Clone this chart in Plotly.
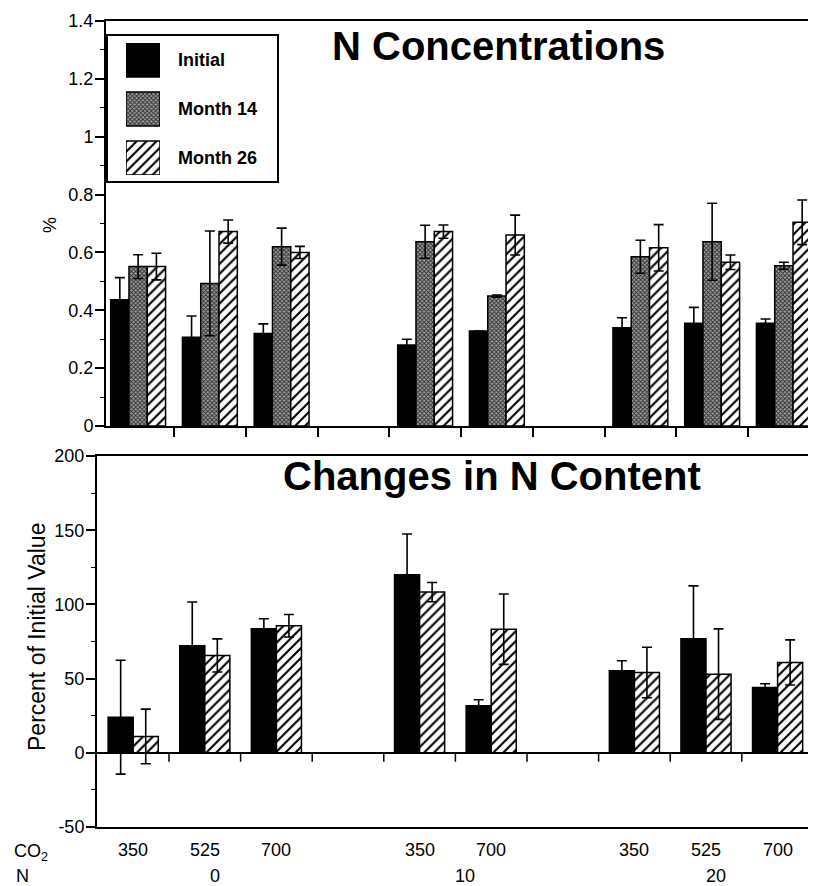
import plotly.graph_objects as go

# The page body has an 8 px default margin, so the figure is drawn 8 px in
# from the top-left corner; size it so that it fills the 816x886 window.
PAGE_W, PAGE_H = 816, 886
OFF = 8
W, H = PAGE_W - OFF, PAGE_H - OFF
FONT = "Liberation Sans, Arial, Helvetica, sans-serif"

# ---------------- data ----------------
n_groups = ["0", "10", "20"]
co2_by_group = [["350", "525", "700"], ["350", "700"], ["350", "525", "700"]]

# N concentrations (%)
init_conc = [0.436, 0.307, 0.320, 0.280, 0.328, 0.340, 0.355, 0.355]
init_conc_err = [0.077, 0.073, 0.033, 0.020, 0.0, 0.034, 0.055, 0.015]
m14_conc = [0.551, 0.493, 0.620, 0.637, 0.449, 0.585, 0.637, 0.554]
m14_conc_err = [0.041, 0.181, 0.064, 0.057, 0.004, 0.057, 0.133, 0.012]
m26_conc = [0.551, 0.672, 0.600, 0.672, 0.660, 0.616, 0.566, 0.704]
m26_conc_err = [0.046, 0.040, 0.021, 0.023, 0.069, 0.080, 0.025, 0.077]

# Changes in N content (percent of initial value)
init_change = [24.0, 72.1, 83.6, 120.0, 31.7, 55.3, 76.8, 44.0]
init_change_err = [38.4, 29.5, 6.7, 27.4, 4.0, 6.7, 35.7, 2.5]
m26_change = [11.0, 65.6, 85.6, 108.3, 83.3, 54.1, 53.0, 60.9]
m26_change_err = [18.4, 11.2, 7.6, 6.5, 23.7, 17.0, 30.5, 15.2]

series_names = ["Initial", "Month 14", "Month 26"]

# ---------------- category positions ----------------
pos, co2_labels, group_centers = [], [], []
k = 0
for grp in co2_by_group:
    start = k
    for c in grp:
        pos.append(k)
        co2_labels.append(c)
        k += 1
    group_centers.append((start + k - 1) / 2)
    k += 1
n_slots = k - 1
boundaries = [i + 0.5 for i in range(n_slots - 1)]


def fx(px):
    return min(1.0, max(0.0, (px - OFF) / W))


def fy(py):
    return min(1.0, max(0.0, 1 - (py - OFF) / H))


# styles
STYLE = {
    "Initial": dict(color="black", pattern=dict(shape="")),
    "Month 14": dict(color="#8a8a8a",
                     pattern=dict(shape="x", size=3, solidity=0.5,
                                  fgcolor="#2a2a2a", bgcolor="#a0a0a0", fillmode="replace")),
    "Month 26": dict(color="white",
                     pattern=dict(shape="/", size=7, solidity=0.3,
                                  fgcolor="black", bgcolor="white", fillmode="replace")),
}

fig = go.Figure()

# ---------------- top panel ----------------
top_w = 0.255
top_offsets = [-1.5 * top_w, -0.5 * top_w, 0.5 * top_w]
for name, vals, errs, off in zip(series_names,
                                 [init_conc, m14_conc, m26_conc],
                                 [init_conc_err, m14_conc_err, m26_conc_err],
                                 top_offsets):
    st = STYLE[name]
    fig.add_trace(go.Bar(
        x=pos, y=vals, width=top_w, offset=off, name=name, showlegend=False,
        marker=dict(color=st["color"], pattern=st["pattern"],
                    line=dict(color="black", width=1.5)),
        error_y=dict(type="data", array=errs, symmetric=True, color="black",
                     thickness=1.6, width=5),
        xaxis="x", yaxis="y"))

# ---------------- bottom panel ----------------
bot_w = 0.35
bot_offsets = [-bot_w, 0]
for name, vals, errs, off in zip(["Initial", "Month 26"],
                                 [init_change, m26_change],
                                 [init_change_err, m26_change_err],
                                 bot_offsets):
    st = STYLE[name]
    fig.add_trace(go.Bar(
        x=pos, y=vals, width=bot_w, offset=off, name=name, showlegend=False,
        marker=dict(color=st["color"], pattern=st["pattern"],
                    line=dict(color="black", width=1.5)),
        error_y=dict(type="data", array=errs, symmetric=True, color="black",
                     thickness=1.6, width=5),
        xaxis="x2", yaxis="y2"))

# ---------------- custom legend swatches (one bar per series) ----------------
sw_h = 34
sw_gap = 49
for i, name in enumerate(series_names):
    st = STYLE[name]
    fig.add_trace(go.Bar(
        x=[0], y=[sw_h], base=[i * sw_gap], width=1, showlegend=False, hoverinfo="skip",
        marker=dict(color=st["color"], pattern=st["pattern"],
                    line=dict(color="black", width=1.5)),
        xaxis="x3", yaxis="y3"))

# ---------------- axes ----------------
slot_w_top = 71.75
slot0_top = 102.25
slot_w_bot = 71.6
slot0_bot = 97.4


def xval(px, s0, sw):
    return (px - s0) / sw - 0.5


line_common = dict(showline=True, linecolor="black", linewidth=2,
                   showgrid=False, zeroline=False, automargin=False)
tickfont = dict(family=FONT, size=18, color="black")

fig.update_layout(
    template="none",
    width=W, height=H, margin=dict(l=0, r=0, t=0, b=0, pad=0, autoexpand=False),
    paper_bgcolor="white", plot_bgcolor="white",
    barmode="overlay", showlegend=False,
    font=dict(family=FONT, color="black"),
    xaxis=dict(domain=[fx(106), fx(816)],
               range=[xval(106, slot0_top, slot_w_top), xval(816, slot0_top, slot_w_top)],
               anchor="y", mirror=True, tickmode="array", tickvals=boundaries,
               ticks="outside", ticklen=9, tickwidth=1.5, tickcolor="black",
               showticklabels=False, **line_common),
    yaxis=dict(domain=[fy(426), fy(21)], range=[0, 1.4], anchor="x",
               tickmode="array", tickvals=[0, 0.2, 0.4, 0.6, 0.8, 1.0, 1.2, 1.4],
               ticktext=["0", "0.2", "0.4", "0.6", "0.8", "1", "1.2", "1.4"],
               ticks="outside", ticklen=9, tickwidth=1.5, tickcolor="black",
               tickfont=tickfont, ticklabelstandoff=-2,
               minor=dict(ticks="outside", ticklen=4, tickwidth=1.2, tickcolor="black",
                          dtick=0.1, showgrid=False),
               **line_common),
    xaxis2=dict(domain=[fx(97), fx(812)],
                range=[xval(97, slot0_bot, slot_w_bot), xval(812, slot0_bot, slot_w_bot)],
                anchor="y2", mirror=True, ticks="", showticklabels=False,
                **line_common),
    yaxis2=dict(domain=[fy(827), fy(456)], range=[-50, 200], anchor="x2", mirror=True,
                tickmode="array", tickvals=[-50, 0, 50, 100, 150, 200],
                ticktext=["-50", "0", "50", "100", "150", "200"],
                ticks="outside", ticklen=9, tickwidth=1.5, tickcolor="black",
                tickfont=tickfont, ticklabelstandoff=-2,
                minor=dict(ticks="outside", ticklen=4, tickwidth=1.2, tickcolor="black",
                           dtick=25, showgrid=False),
                showline=True, linecolor="black", linewidth=2, showgrid=False,
                automargin=False,
                zeroline=True, zerolinecolor="black", zerolinewidth=2),
    xaxis3=dict(domain=[fx(126), fx(160)], range=[-0.5, 0.5], visible=False,
                anchor="y3", fixedrange=True, automargin=False),
    yaxis3=dict(domain=[fy(43 + 2 * sw_gap + sw_h), fy(43)],
                range=[2 * sw_gap + sw_h, 0], visible=False, anchor="x3",
                fixedrange=True, automargin=False),
)

# ---------------- shapes ----------------
shapes = []
# ticks on the zero line of the bottom panel
for b in boundaries:
    shapes.append(dict(type="line", xref="x2", yref="y2", x0=b, x1=b, y0=0, y1=-6,
                       line=dict(color="black", width=1.5)))
# legend box
shapes.append(dict(type="rect", xref="paper", yref="paper",
                   x0=fx(107), x1=fx(278), y0=fy(182), y1=fy(35),
                   line=dict(color="black", width=2), fillcolor="rgba(0,0,0,0)"))
fig.update_layout(shapes=shapes)

# ---------------- annotations ----------------
ann = []
ann.append(dict(text="<b>N Concentrations</b>", xref="paper", yref="paper",
                x=fx(498), y=fy(46), xanchor="center", yanchor="middle", showarrow=False,
                font=dict(family=FONT, size=40, color="black")))
ann.append(dict(text="<b>Changes in N Content</b>", xref="paper", yref="paper",
                x=fx(492), y=fy(476), xanchor="center", yanchor="middle", showarrow=False,
                font=dict(family=FONT, size=40, color="black")))
# legend labels
for i, name in enumerate(series_names):
    ann.append(dict(text="<b>%s</b>" % name, xref="paper", yref="paper",
                    x=fx(176), y=fy(43 + sw_h / 2 + i * sw_gap), xanchor="left",
                    yanchor="middle", showarrow=False,
                    font=dict(family=FONT, size=18, color="black")))
# axis titles
ann.append(dict(text="%", xref="paper", yref="paper", x=fx(50), y=fy(225),
                textangle=-90, showarrow=False, xanchor="center", yanchor="middle",
                font=dict(family=FONT, size=18, color="black")))
ann.append(dict(text="Percent of Initial Value", xref="paper", yref="paper",
                x=fx(37), y=fy(637), textangle=-90, showarrow=False,
                xanchor="center", yanchor="middle",
                font=dict(family=FONT, size=23, color="black")))
# CO2 / N row labels
ann.append(dict(text="CO<sub>2</sub>", xref="paper", yref="paper", x=fx(12), y=fy(852),
                xanchor="left", yanchor="middle", showarrow=False,
                font=dict(family=FONT, size=18, color="black")))
ann.append(dict(text="N", xref="paper", yref="paper", x=fx(14), y=fy(876),
                xanchor="left", yanchor="middle", showarrow=False,
                font=dict(family=FONT, size=18, color="black")))
for p, lab in zip(pos, co2_labels):
    ann.append(dict(text=lab, xref="x2", yref="paper", x=p, y=fy(850),
                    xanchor="center", yanchor="middle", showarrow=False,
                    font=dict(family=FONT, size=18, color="black")))
for gc, lab in zip(group_centers, n_groups):
    ann.append(dict(text=lab, xref="x2", yref="paper", x=gc, y=fy(876), xshift=10,
                    xanchor="center", yanchor="middle", showarrow=False,
                    font=dict(family=FONT, size=18, color="black")))
fig.update_layout(annotations=ann)

fig.write_html("out.html")
